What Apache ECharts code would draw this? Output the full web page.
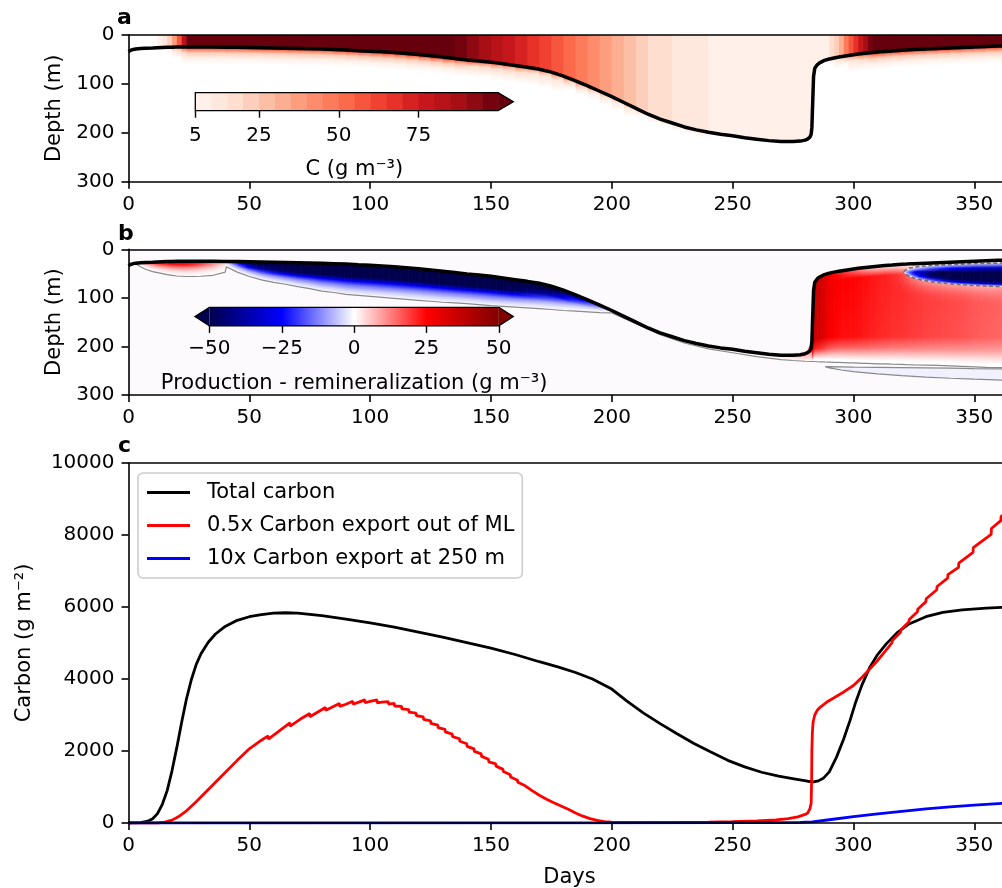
<!DOCTYPE html>
<html><head><meta charset="utf-8">
<script src="https://cdn.jsdelivr.net/npm/echarts@6/dist/echarts.min.js"></script>
<style>html,body{margin:0;padding:0;background:#fff}#c{width:1002px;height:888px}</style>
</head><body><div id="c"></div>
<script>
// ================= DATA =================
// Days at which mixed-layer depth (m) and mixed-layer carbon concentration (g m^-3) were read
const days = [0,1,2,3,5,7,10,12,14,16,
  18,20,22,24,27,30,35,40,40.5,45,
  50,55,60,65,70,75,80,85,90,95,
  100,105,110,115,120,125,130,135,140,145,
  150,155,160,165,170,175,180,185,190,195,
  200,205,210,215,220,225,230,235,240,245,
  250,255,260,265,270,275,278,280,281,282,
  282.5,282.8,283,283.5,284,285,286,288,290,292,
  294,296,298,300,302,304,306,308,310,313,
  316,320,322,325,330,335,340,345,350,355,
  360,365];
const mld = [34,31,29.5,28.5,27.5,27,26.5,26,25.5,25,
  25,24.5,24.5,24.5,24.5,24.5,24.5,25,25,25,
  25.5,26,26.5,27,27.5,28,28.5,29.5,30.5,32,
  33,34.5,36,38,40,42.5,45,48,51,53,
  55.5,59,62.5,66,70,76,84,94,104,115,
  126,138,150,162,172,180,188,194,199,203,
  206,210,213,216,218,218,217,215,213,209,
  203,190,160,85,68,61,57,52,49,47,
  45,43.5,42,40.5,39,38,37,36,35,33.5,
  32.5,31,30.5,29.5,28.5,27.5,26.5,25.5,24.5,23.5,
  22.5,22];
const conc = [0,0,0,0,0.5,1,2.5,5.5,11,20,
  35,55,80,105,140,170,195,210,210,215,
  220,220,218,214,208,200,192,185,177,170,
  163,155,147,138,128,115,101,95,90,85,
  80,75,70,65,61,56,51,46,41,36,
  30.5,25.5,21.5,18.5,16.5,14.5,13,11.5,9.9,9.5,
  9,8.5,8,7.5,7,6.8,6.7,6.6,6.6,6.6,
  6.6,6.6,6.6,6.6,6.6,6.7,7,9,15,24,
  34,45,56,67,78,88,96,102,110,125,
  140,155,160,170,185,195,205,215,225,235,
  245,250];

// Colour bar levels / ticks
const cLevels = [5,10,15,20,25,30,35,40,45,50,55,60,65,70,75,80,85,90,95,100];
const cTicks = [5,25,50,75];
const pTicks = [-50,-25,0,25,50];

// Panel b: production - remineralization regions (depth m, value g m^-3)
const r1Days = [3,5,7,10,12,14,16,18,20,22,24,27,30,35,40,40.5];
const r1Bot  = [30,36,41,46,48,50,52,53.5,55,55.5,56,56,55.5,53.5,47,36];
const r1Val  = [3,8,14,22,28,32,35,37,38,38,37,34,28,18,6,2];

const r2Days = [40.5,45,50,55,60,65,70,75,80,85,90,95,100,105,110,115,120,125,130,135,140,145,150,155,160,165,170,175,180,185,190,195,200];
const r2Bot  = [36,47,56,63,68,72,77,81,86,89,93,95,97,99,101,103,105,107,109,110.5,112,114,116,117.5,119,120.5,122,124,126,127.5,129,130.5,131];
const r2Val  = [-5,-30,-60,-80,-95,-105,-110,-112,-112,-112,-112,-112,-112,-112,-112,-112,-112,-112,-112,-112,-112,-112,-112,-110,-105,-95,-85,-72,-58,-42,-30,-17,-5];

const r5Days = [200,210,220,230,240,250,260,270,275,280,282.8];
const r5Bot  = [131,153,176,193,205,213,221,227,229,230.5,231];
const r5Val  = [1,1.5,2,2.5,3,3.5,4,5,7,12,25];

const r3Days = [282.8,283,283.5,284,285,286,288,290,292,294,296,298,300,302,304,306,308,310,313,316,320,322,325,330,335,340,345,350,355,360,365];
const r3Bot  = [231,231,231,231,231.5,232,232,232.5,233,233,233.5,234,234,234.5,235,235,235.5,236,236,236.5,237,237.5,238,238.5,239,240,241,242,243,243.5,244];
const r3Mid  = [37,37,37,36.5,36,35,32,28,26.5,25.5,25,25,24.8,24.5,24,23.5,23,22.5,22,21.5,21,20.7,20.3,19.5,19,18.5,18,17,16.5,16,15.5];
const r3Surf = [37,37,37,36.5,36,35,32,28,25,22,19,16,13,10,7,5,3.5,2.5,1.5,1,0.5,0,0,0,0,0,0,0,0,0,0];

const lensDays = [320.7,321.5,323,325,328,332,336,340,345,350,355,360,365];
const lensTop  = [46,42,39,37,35,33.5,32.5,31.5,30.5,29.5,29,28.5,28];
const lensBot  = [46,51,55,59,63,66.5,69,71,73,74.5,75.5,76.5,77];
const lensVal  = [-2,-8,-18,-30,-45,-60,-72,-82,-92,-100,-106,-110,-112];

const deepDays = [288.3,290,295,300,310,320,330,340,350,365];
const deepTop  = [241.5,241.5,242,242.5,243,243.5,244,244.5,245.5,246.5];
const deepBot  = [241.5,244,248.5,252,256.5,260,263,265.5,267.5,270];
const deepVal  = [-1.5,-1.5,-1.5,-1.5,-1.5,-1.5,-1.5,-1.5,-1.5,-1.5];

// Panel c series [day, g m^-2]
const totalCarbon = [[0,0],[5,10],[8,50],[10,120],[12,260],[14,520],[16,900],[18,1450],[20,2100],[22,2800],[24,3450],[26,3980],[28,4400],[30,4700],[33,5020],[36,5250],[40,5460],[45,5630],[50,5730],[55,5790],[60,5830],[65,5840],[70,5830],[80,5760],[90,5660],[100,5560],[110,5440],[120,5300],[130,5160],[140,5010],[150,4860],[160,4680],[170,4480],[178,4330],[185,4180],[192,4000],[200,3720],[206,3400],[213,3060],[220,2760],[227,2480],[234,2210],[241,1970],[248,1740],[255,1560],[262,1410],[269,1300],[276,1220],[281,1160],[283.5,1140],[285.5,1170],[287.5,1240],[290,1420],[293,1830],[296,2340],[298.6,2850],[301,3370],[303.5,3830],[306.8,4330],[310,4680],[313.6,4975],[318,5280],[323,5530],[330,5730],[337,5850],[345,5920],[355,5970],[365,6000]];
const exportML = [[0,0],[12,0],[15,25],[18,80],[21,190],[24,340],[28,590],[32,860],[36,1130],[40,1400],[45,1740],[50,2060],[55,2300],[57.8,2420],[57.9,2330],[62,2540],[66.8,2780],[66.9,2690],[71,2880],[75,3040],[75.1,2950],[78,3070],[81.5,3210],[81.6,3130],[84,3210],[87.3,3320],[87.4,3240],[90,3300],[92.8,3380],[92.9,3300],[95,3350],[97.8,3420],[97.9,3340],[100,3380],[102.8,3420],[102.9,3340],[105,3360],[107.5,3370],[107.6,3300],
 [110,3320],[110.1,3250],[113,3240],[113.1,3170],[116,3150],[116.1,3080],[119,3050],[119.1,2980],[122,2950],[122.1,2880],[125,2840],[125.1,2770],[128,2720],[128.1,2650],[131,2600],[131.1,2530],[134,2470],[134.1,2400],[137,2340],[137.1,2270],[140,2200],[140.1,2130],[143,2060],[143.1,1990],[146,1920],[146.1,1850],[149,1770],[149.1,1700],[152,1640],[152.1,1580],[155,1490],[155.1,1430],[158,1340],[158.1,1280],[161,1190],[161.1,1130],[164,1040],[164.1,990],[167,900],[167.1,860],[170,770],[170.1,740],[173,660],[173.1,630],[176,560],[176.1,530],[179,470],[179.1,450],
 [182,380],[185,280],[188,190],[191,120],[194,70],[197,40],[200,25],[210,15],[220,15],[230,18],[240,25],[250,35],[260,55],[268,85],[273,120],[277,170],[280,240],[281,270],[282,400],[282.5,550],[282.7,1200],[282.8,2000],[283,2500],[283.3,2800],[284,3000],[285,3130],[286.3,3220],[289,3360],[292,3480],[296,3640],[300,3820],[303,4010],[306,4220],[309.8,4500],[313,4760],[316,5010],[316.1,5070],[319.5,5300],[319.6,5360],[323,5590],[323.1,5650],[326.5,5870],[326.6,5940],[330,6150],[330.1,6230],[334.5,6480],[334.6,6570],[339,6800],[339.1,6900],[343.5,7100],[343.6,7220],[349.5,7520],[349.6,7650],[357,8020],[357.1,8180],[361,8400],[361.1,8520],[365,8700]];
const export250 = [[0,0],[200,5],[250,8],[270,12],[278,20],[283,30],[290,90],[300,175],[310,255],[320,325],[330,395],[340,450],[350,495],[362,545],[365,555]];

// ================= COLOUR MAPS =================
const REDS_HEX = ['#fff5f0','#fee0d2','#fcbba1','#fc9272','#fb6a4a','#ef3b2c','#cb181d','#a50f15','#67000d'];
const REDS_RGB = REDS_HEX.map(h => [parseInt(h.slice(1,3),16), parseInt(h.slice(3,5),16), parseInt(h.slice(5,7),16)]);
const rgbStr = a => 'rgb(' + a.map(v => Math.round(v)).join(',') + ')';
function reds(t){ t = Math.max(0, Math.min(1, t)); const x = t*8; const i = Math.min(7, Math.floor(x)); const f = x-i;
  const a = REDS_RGB[i], b = REDS_RGB[i+1]; return rgbStr(a.map((v,k) => v+(b[k]-v)*f)); }
function redsLevel(c){ const lo = cLevels[0], hi = cLevels[cLevels.length-1], st = cLevels[1]-cLevels[0];
  if (!(c >= lo)) return null; if (c >= hi) return reds(1);
  const i = Math.floor((c-lo)/st); return reds(((i+0.5)*st)/(hi-lo)); }
const SEIS = [[0,[0,0,77]],[0.25,[0,0,255]],[0.5,[255,255,255]],[0.75,[255,0,0]],[1,[128,0,0]]];
function seis(v){ let t = Math.max(0, Math.min(1, (v+50)/100));
  for (let k = 0; k < SEIS.length-1; k++){ const [t0,c0] = SEIS[k], [t1,c1] = SEIS[k+1];
    if (t <= t1){ const f = (t-t0)/(t1-t0); return rgbStr(c0.map((v,j) => v+(c1[j]-v)*f)); } }
  return rgbStr(SEIS[SEIS.length-1][1]); }

const mldAt = d => mld[days.indexOf(d)];
const FONT = 'DejaVu Sans';
const lerp = (a, b, t) => a + (b - a) * t;

// ================= PANEL A FIELD =================
const FADE_DEPTH = 35;
const FADE_PROFILE = [[0,0.8],[0.15,0.45],[0.35,0.22],[0.65,0.09],[1,0.03]];
const panelA = {
  type:'custom', xAxisIndex:0, yAxisIndex:0, clip:true, silent:true, z:1,
  data: days.map((d,i) => [d, mld[i], conc[i]]),
  renderItem: function(params, api){
    const i = params.dataIndex; if (i >= days.length-1) return null;
    const d0 = days[i], d1 = days[i+1], m0 = mld[i], m1 = mld[i+1];
    const p00 = api.coord([d0,0]), p10 = api.coord([d1,0]), p11 = api.coord([d1,m1]), p01 = api.coord([d0,m0]);
    const f11 = api.coord([d1,m1+FADE_DEPTH]), f01 = api.coord([d0,m0+FADE_DEPTH]);
    const ov = 0.8, ch = [];
    const cm = Math.min(conc[i], cLevels[cLevels.length-1]);
    const stops = FADE_PROFILE.map(s => ({offset:s[0], color: redsLevel(cm*s[1]) || '#ffffff'}));
    ch.push({type:'polygon', shape:{points:[p01,[p11[0]+ov,p11[1]],[f11[0]+ov,f11[1]],f01]},
      style:{fill:{type:'linear', x:0, y:(p01[1]+p11[1])/2, x2:0, y2:(f01[1]+f11[1])/2, global:true, colorStops:stops}}});
    const col = redsLevel(conc[i]);
    if (col) ch.push({type:'polygon', shape:{points:[p00,[p10[0]+ov,p10[1]],[p11[0]+ov,p11[1]],p01]}, style:{fill:col}});
    return {type:'group', children:ch};
  }
};

// ================= PANEL B FIELD =================
// each strip between two read columns is painted in thin slices so the vertical gradient follows the boundaries
function stripSeries(d, top, bot, stopsFn){
  return {
    type:'custom', xAxisIndex:2, yAxisIndex:1, clip:true, silent:true, z:2,
    data: d.map((x,i) => [x, top[i], bot[i]]),
    renderItem: function(params, api){
      const i = params.dataIndex; if (i >= d.length-1) return null;
      const a = api.coord([d[i], top[i]]), b = api.coord([d[i+1], top[i+1]]);
      const c = api.coord([d[i+1], bot[i+1]]), e = api.coord([d[i], bot[i]]);
      const n = Math.max(1, Math.ceil((b[0]-a[0]) / 2));
      const ch = [];
      for (let j = 0; j < n; j++){
        const t0 = j/n, t1 = (j+1)/n, tm = (j+0.5)/n;
        const xa = lerp(a[0], b[0], t0), xb = lerp(a[0], b[0], t1);
        const ya0 = lerp(a[1], b[1], t0), ya1 = lerp(a[1], b[1], t1);
        const yb0 = lerp(e[1], c[1], t0), yb1 = lerp(e[1], c[1], t1);
        const yT = (ya0+ya1)/2, yB = (yb0+yb1)/2;
        const stops = stopsFn(i, tm).map(s => ({offset:s[0], color:seis(s[1])}));
        const fill = (yB-yT > 0.5) ? {type:'linear', x:0, y:yT, x2:0, y2:yB, global:true, colorStops:stops} : stops[Math.floor(stops.length/2)].color;
        ch.push({type:'polygon', shape:{points:[[xa,ya0],[xb+0.7,ya1],[xb+0.7,yb1],[xa,yb0]]}, style:{fill:fill}});
      }
      return {type:'group', children:ch};
    }
  };
}
const at = (arr, i, t) => lerp(arr[i], arr[i+1], t);
const prof = (p, v) => p.map(s => [s[0], s[1]*v]);
const P1 = [[0,1],[0.2,0.65],[0.4,0.35],[0.6,0.15],[0.8,0.04],[1,0]];
const P2 = [[0,1],[0.2,0.7],[0.4,0.45],[0.55,0.24],[0.7,0.11],[0.85,0.04],[1,0]];
const P5 = [[0,1],[0.5,0.4],[1,0]];
const PL = [[0,0.05],[0.2,0.3],[0.4,0.7],[0.55,0.85],[0.75,0.6],[0.9,0.3],[1,0.05]];

const r1S = stripSeries(r1Days, r1Days.map(mldAt), r1Bot, (i,t) => prof(P1, at(r1Val,i,t)));
const r2S = stripSeries(r2Days, r2Days.map(mldAt), r2Bot, (i,t) => prof(P2, at(r2Val,i,t)));
const r5S = stripSeries(r5Days, r5Days.map(mldAt), r5Bot, (i,t) => prof(P5, at(r5Val,i,t)));
const r3S = stripSeries(r3Days, r3Days.map(mldAt), r3Bot, (i,t) => { const m = at(r3Mid,i,t), s = at(r3Surf,i,t);
  return [[0,s],[0.1,m],[0.72,m*0.95],[0.84,m*0.6],[0.92,m*0.2],[0.97,0],[1,0]]; });
const lensS = stripSeries(lensDays, lensTop, lensBot, (i,t) => prof(PL, at(lensVal,i,t)));
const deepS = stripSeries(deepDays, deepTop, deepBot, (i,t) => [[0,at(deepVal,i,t)],[1,at(deepVal,i,t)]]);
const haloS = {
  type:'custom', xAxisIndex:2, yAxisIndex:1, clip:true, silent:true, z:2, data:[[lensDays[0], lensTop[0]]],
  renderItem: function(params, api){
    const pts = lensDays.map((d,i) => api.coord([d, lensTop[i]])).concat(lensDays.map((d,i) => api.coord([d, lensBot[i]])).reverse());
    return {type:'polygon', shape:{points:pts}, style:{fill:'#ffffff', shadowBlur:18, shadowColor:'#ffffff'}};
  }
};
const pairs = (d, v) => d.map((x,i) => [x, v[i]]);
const contourMain = pairs(r1Days, r1Bot).concat(pairs(r2Days, r2Bot).slice(1), pairs(r5Days, r5Bot).slice(1), pairs(r3Days, r3Bot).slice(1));
const contourLens = pairs(lensDays, lensTop).concat(pairs(lensDays, lensBot).reverse());
const contourDeep = pairs(deepDays, deepTop).concat(pairs(deepDays, deepBot).reverse());
const grayLine = (data, dashed) => ({type:'line', xAxisIndex:2, yAxisIndex:1, data:data, symbol:'none', silent:true, z:4,
  lineStyle:{color: dashed ? '#707070' : '#8a8a8a', width: dashed ? 1.6 : 1.2, type: dashed ? [4,2.5] : 'solid'}});
const mldLine = (xi, yi) => ({type:'line', xAxisIndex:xi, yAxisIndex:yi, data: pairs(days, mld), symbol:'none', silent:true, z:5,
  lineStyle:{color:'#000', width:3.5}});

// ================= COLOUR BARS =================
const cbA = {
  type:'custom', xAxisIndex:6, yAxisIndex:3, clip:false, silent:true, z:2,
  data: [[cLevels[0], 0]],
  renderItem: function(params, api){
    const ch = [], hi = cLevels[cLevels.length-1], ext = 0.05*(hi-cLevels[0]);
    for (let k = 0; k < cLevels.length-1; k++){
      const p0 = api.coord([cLevels[k], 1]), p1 = api.coord([cLevels[k+1], 0]);
      ch.push({type:'rect', shape:{x:p0[0], y:p0[1], width:p1[0]-p0[0]+0.6, height:p1[1]-p0[1]}, style:{fill:redsLevel((cLevels[k]+cLevels[k+1])/2)}});
    }
    const t = [api.coord([hi,0]), api.coord([hi+ext,0.5]), api.coord([hi,1])];
    ch.push({type:'polygon', shape:{points:t}, style:{fill:reds(1)}});
    const o = [api.coord([cLevels[0],0]), api.coord([hi,0]), api.coord([hi+ext,0.5]), api.coord([hi,1]), api.coord([cLevels[0],1])];
    ch.push({type:'polygon', shape:{points:o}, style:{fill:null, stroke:'#000', lineWidth:1.3}});
    return {type:'group', children:ch};
  }
};
const cbB = {
  type:'custom', xAxisIndex:7, yAxisIndex:4, clip:false, silent:true, z:2,
  data: [[pTicks[0], 0]],
  renderItem: function(params, api){
    const lo = pTicks[0], hi = pTicks[pTicks.length-1], ext = 0.05*(hi-lo);
    const p0 = api.coord([lo,1]), p1 = api.coord([hi,0]);
    const ch = [{type:'rect', shape:{x:p0[0], y:p0[1], width:p1[0]-p0[0], height:p1[1]-p0[1]},
      style:{fill:{type:'linear', x:p0[0], y:0, x2:p1[0], y2:0, global:true, colorStops:SEIS.map(s => ({offset:s[0], color:rgbStr(s[1])}))}}}];
    ch.push({type:'polygon', shape:{points:[api.coord([lo,0]), api.coord([lo-ext,0.5]), api.coord([lo,1])]}, style:{fill:rgbStr(SEIS[0][1])}});
    ch.push({type:'polygon', shape:{points:[api.coord([hi,0]), api.coord([hi+ext,0.5]), api.coord([hi,1])]}, style:{fill:rgbStr(SEIS[4][1])}});
    const o = [api.coord([lo,0]), api.coord([hi,0]), api.coord([hi+ext,0.5]), api.coord([hi,1]), api.coord([lo,1]), api.coord([lo-ext,0.5])];
    ch.push({type:'polygon', shape:{points:o}, style:{fill:null, stroke:'#000', lineWidth:1.3}});
    return {type:'group', children:ch};
  }
};

// ================= AXES =================
const AX = {color:'#000', width:1.6};
const lbl = (extra) => Object.assign({fontSize:20, color:'#000', fontFamily:FONT}, extra||{});
const nameLbl = () => ({fontSize:21, color:'#000', fontFamily:FONT});
const plain = v => String(v);
const bottomX = (g, extra) => Object.assign({type:'value', gridIndex:g, min:0, max:365, interval:50, position:'bottom', z:10,
  axisLine:{show:true, onZero:false, lineStyle:AX}, axisTick:{show:true, length:7, lineStyle:AX},
  axisLabel:lbl({margin:13, showMaxLabel:false, formatter:plain}), splitLine:{show:false}}, extra||{});
const topX = g => ({type:'value', gridIndex:g, min:0, max:365, position:'top', z:10,
  axisLine:{show:true, onZero:false, lineStyle:AX}, axisTick:{show:false}, axisLabel:{show:false}, splitLine:{show:false}});
const depthY = g => ({type:'value', gridIndex:g, min:0, max:300, interval:100, inverse:true, z:10,
  name:'Depth (m)', nameLocation:'middle', nameGap:61, nameTextStyle:nameLbl(),
  axisLine:{show:true, onZero:false, lineStyle:AX}, axisTick:{show:true, length:7, lineStyle:AX},
  axisLabel:lbl({margin:14, formatter:plain}), splitLine:{show:false}});
const fmtMinus = v => (v < 0 ? '\u2212' : '') + Math.abs(v);

const option = {
  animation:false,
  backgroundColor:'#ffffff',
  grid:[
    {left:128.5, top:35, width:882, height:146.7, outerBoundsMode:'none'},
    {left:128.5, top:249.3, width:882, height:145.7, show:true, backgroundColor:'#fdfafd', borderWidth:0, outerBoundsMode:'none'},
    {left:128.5, top:463, width:882, height:360, outerBoundsMode:'none'},
    {left:195.3, top:92.7, width:318, height:18, outerBoundsMode:'none'},
    {left:195, top:307.3, width:318.3, height:18.6, outerBoundsMode:'none'}
  ],
  xAxis:[
    bottomX(0), topX(0),
    bottomX(1), topX(1),
    bottomX(2, {name:'Days', nameLocation:'middle', nameGap:44, nameTextStyle:nameLbl()}), topX(2),
    {type:'value', gridIndex:3, min:cLevels[0], max:cLevels[cLevels.length-1]+0.05*(cLevels[cLevels.length-1]-cLevels[0]),
      axisLine:{show:false}, axisTick:{show:true, length:7, lineStyle:{color:'#000', width:1.4}, customValues:cTicks},
      axisLabel:lbl({margin:15, customValues:cTicks}), splitLine:{show:false},
      name:'C (g m\u207B\u00B3)', nameLocation:'middle', nameGap:48, nameTextStyle:nameLbl()},
    {type:'value', gridIndex:4, min:pTicks[0]-5, max:pTicks[pTicks.length-1]+5,
      axisLine:{show:false}, axisTick:{show:true, length:7, lineStyle:{color:'#000', width:1.4}, customValues:pTicks},
      axisLabel:lbl({margin:13, customValues:pTicks, formatter:fmtMinus}), splitLine:{show:false},
      name:'Production - remineralization (g m\u207B\u00B3)', nameLocation:'middle', nameGap:47, nameTextStyle:nameLbl()}
  ],
  yAxis:[
    depthY(0), depthY(1),
    {type:'value', gridIndex:2, min:0, max:10000, interval:2000, z:10,
      name:'Carbon (g m\u207B\u00B2)', nameLocation:'middle', nameGap:93, nameTextStyle:nameLbl(),
      axisLine:{show:true, onZero:false, lineStyle:AX}, axisTick:{show:true, length:7, lineStyle:AX},
      axisLabel:lbl({margin:14, formatter:plain}), splitLine:{show:false}},
    {type:'value', gridIndex:3, min:0, max:1, show:false},
    {type:'value', gridIndex:4, min:0, max:1, show:false}
  ],
  legend:{
    left:138, top:473, orient:'vertical', icon:'rect', itemWidth:43, itemHeight:3, itemGap:10,
    padding:[8,8,8,9], backgroundColor:'rgba(255,255,255,0.8)', borderColor:'#cccccc', borderWidth:1.6, borderRadius:5,
    textStyle:{fontSize:21, lineHeight:23, color:'#000', fontFamily:FONT, padding:[0,0,0,12]},
    data:['Total carbon','0.5x Carbon export out of ML','10x Carbon export at 250 m']
  },
  graphic:[
    {type:'text', left:117, top:7, z:100, style:{text:'a', font:'bold 22px "DejaVu Sans"', fill:'#000'}},
    {type:'text', left:118, top:223, z:100, style:{text:'b', font:'bold 22px "DejaVu Sans"', fill:'#000'}},
    {type:'text', left:118, top:435, z:100, style:{text:'c', font:'bold 22px "DejaVu Sans"', fill:'#000'}}
  ],
  series:[
    panelA,
    mldLine(0,0),
    r2S, r1S, r5S, r3S, haloS, lensS, deepS,
    grayLine(contourMain, false), grayLine(contourDeep, false), grayLine(contourLens, true),
    mldLine(2,1),
    {name:'Total carbon', type:'line', xAxisIndex:4, yAxisIndex:2, data:totalCarbon, color:'#000000', symbol:'none', showSymbol:false,
      lineStyle:{color:'#000000', width:2.8}, z:3},
    {name:'0.5x Carbon export out of ML', type:'line', xAxisIndex:4, yAxisIndex:2, data:exportML, color:'#ff0000', symbol:'none', showSymbol:false,
      lineStyle:{color:'#ff0000', width:2.8}, z:3},
    {name:'10x Carbon export at 250 m', type:'line', xAxisIndex:4, yAxisIndex:2, data:export250, color:'#0000ff', symbol:'none', showSymbol:false,
      lineStyle:{color:'#0000ff', width:2.8}, z:3},
    cbA, cbB
  ]
};
const chart = echarts.init(document.getElementById('c'), null, {renderer:'canvas'});
chart.setOption(option);
</script></body></html>
